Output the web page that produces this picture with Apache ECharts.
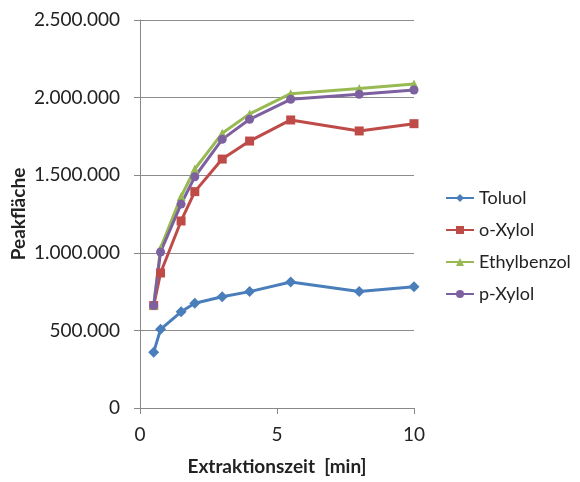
<!DOCTYPE html>
<html>
<head>
<meta charset="utf-8">
<script src="https://cdn.jsdelivr.net/npm/echarts@6/dist/echarts.min.js"></script>
<style>
  html, body { margin: 0; padding: 0; background: #fff; }
  #chart { width: 580px; height: 482px; }
</style>
</head>
<body>
<div id="chart"></div>
<script>
  // Extraktionszeit in min
  const zeiten = [0.5, 0.75, 1.5, 2, 3, 4, 5.5, 8, 10];
  const toluol = [360000, 507000, 620000, 675000, 717000, 750000, 812000, 750000, 782000];
  const oXylol = [660000, 870000, 1205000, 1394000, 1604000, 1720000, 1856000, 1785000, 1832000];
  const ethylbenzol = [662000, 1030000, 1362000, 1540000, 1770000, 1895000, 2025000, 2058000, 2088000];
  const pXylol = [660000, 1005000, 1314000, 1490000, 1731000, 1860000, 1989000, 2021000, 2049000];
  const yTicks = [0, 500000, 1000000, 1500000, 2000000, 2500000];

  const font = 'Lato';

  function fmt(v) {
    return String(v).replace(/\B(?=(\d{3})+(?!\d))/g, '.');
  }

  function pairs(ys) {
    return zeiten.map((x, i) => [x, ys[i]]);
  }

  function line(name, ys, color, symbol, size) {
    return {
      name: name,
      type: 'line',
      data: pairs(ys),
      symbol: symbol,
      symbolSize: size,
      showAllSymbol: true,
      lineStyle: { color: color, width: 3 },
      itemStyle: { color: color },
      animation: false
    };
  }

  const chart = echarts.init(document.getElementById('chart'));
  chart.setOption({
    backgroundColor: '#fff',
    grid: { left: 140, right: 166, top: 20, bottom: 74 },
    legend: {
      orient: 'vertical',
      left: 440,
      top: 184,
      itemGap: 14,
      itemWidth: 28,
      itemHeight: 10,
      textStyle: { fontFamily: font, fontSize: 18, color: '#222' },
      data: ['Toluol', 'o-Xylol', 'Ethylbenzol', 'p-Xylol']
    },
    xAxis: {
      type: 'value',
      min: 0,
      max: 10,
      interval: 5,
      name: 'Extraktionszeit  [min]',
      nameLocation: 'middle',
      nameGap: 49,
      nameTextStyle: { fontFamily: font, fontSize: 19, fontWeight: 'bold', color: '#222' },
      axisLine: { lineStyle: { color: '#888' } },
      axisTick: { show: true, length: 6, inside: false, lineStyle: { color: '#888' } },
      axisLabel: { fontFamily: font, fontSize: 19, color: '#222', margin: 17 },
      splitLine: { show: false }
    },
    yAxis: {
      type: 'value',
      min: yTicks[0],
      max: yTicks[yTicks.length - 1],
      interval: 500000,
      name: 'Peakfläche',
      nameLocation: 'middle',
      nameGap: 112,
      nameRotate: 90,
      nameTextStyle: { fontFamily: font, fontSize: 19, fontWeight: 'bold', color: '#222' },
      axisLine: { show: true, lineStyle: { color: '#888' } },
      axisTick: { show: true, length: 6, lineStyle: { color: '#888' } },
      axisLabel: { fontFamily: font, fontSize: 19, color: '#222', margin: 20, formatter: fmt },
      splitLine: { lineStyle: { color: '#8c8c8c', width: 1 } }
    },
    series: [
      line('Toluol', toluol, '#4a7ebb', 'diamond', 11),
      line('o-Xylol', oXylol, '#be4b48', 'rect', 9),
      line('Ethylbenzol', ethylbenzol, '#98b954', 'triangle', 9),
      line('p-Xylol', pXylol, '#7d60a0', 'circle', 9)
    ]
  });
</script>
</body>
</html>
